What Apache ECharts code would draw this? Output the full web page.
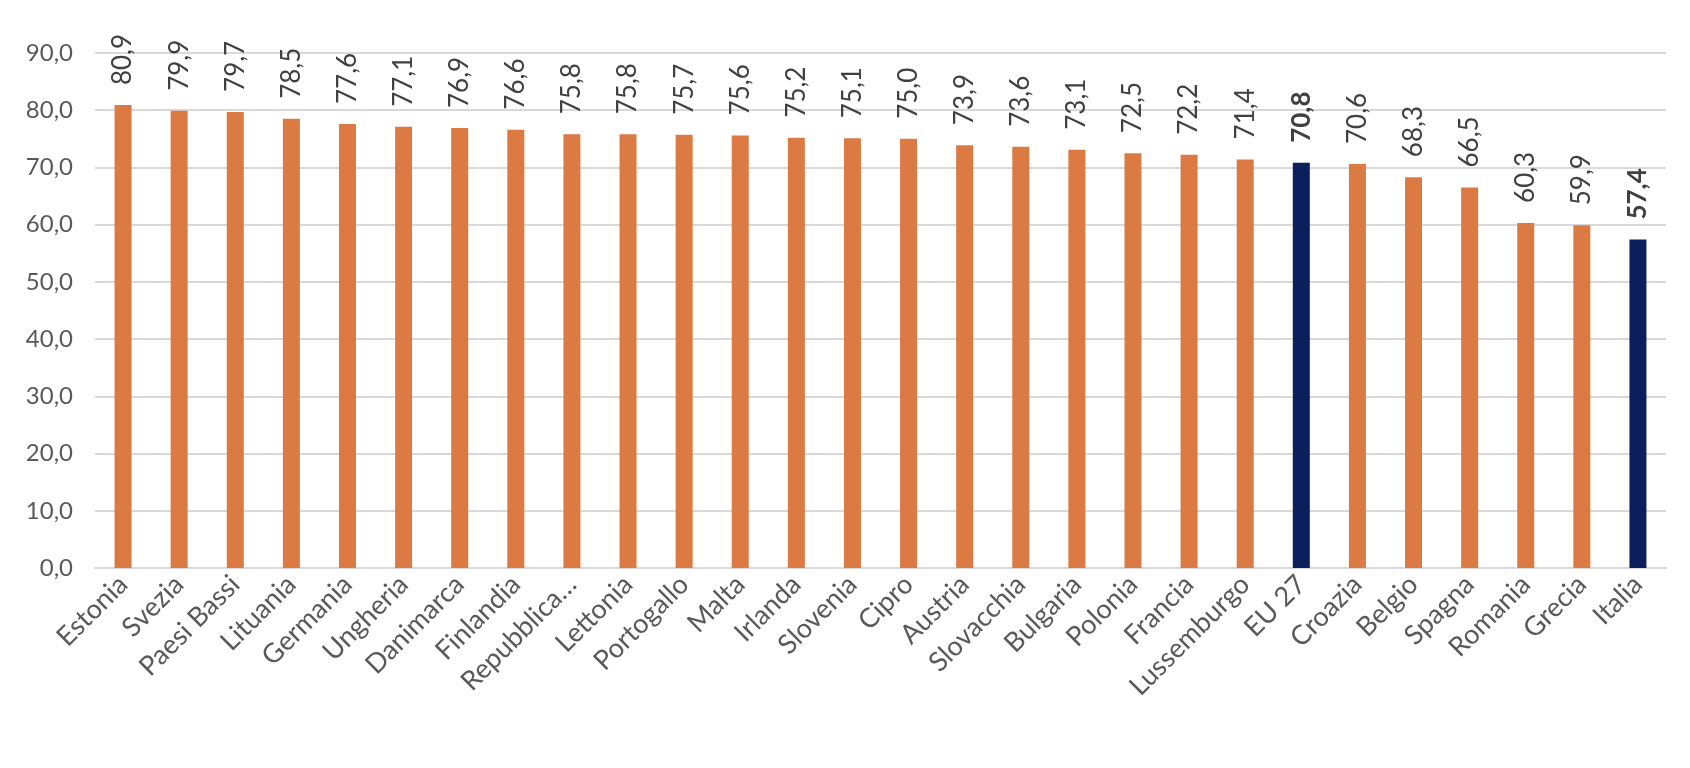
<!DOCTYPE html><html><head><meta charset="utf-8"><script src="https://cdn.jsdelivr.net/npm/echarts@6/dist/echarts.min.js"></script><style>body{margin:0}#c{width:1690px;height:768px}</style></head><body><div id="c"></div><script>
const categories=["Estonia","Svezia","Paesi Bassi","Lituania","Germania","Ungheria","Danimarca","Finlandia","Repubblica…","Lettonia","Portogallo","Malta","Irlanda","Slovenia","Cipro","Austria","Slovacchia","Bulgaria","Polonia","Francia","Lussemburgo","EU 27","Croazia","Belgio","Spagna","Romania","Grecia","Italia"];
const values=[80.9,79.9,79.7,78.5,77.6,77.1,76.9,76.6,75.8,75.8,75.7,75.6,75.2,75.1,75.0,73.9,73.6,73.1,72.5,72.2,71.4,70.8,70.6,68.3,66.5,60.3,59.9,57.4];
const highlight=["EU 27","Italia"];
const fmt=v=>v.toFixed(1).replace('.',',');
const data=values.map((v,i)=>{const h=highlight.includes(categories[i]);return {value:v,itemStyle:{color:h?'#0b1f5c':'#dc7a43'},label:{fontWeight:h?'bold':'normal'}};});
const ch=echarts.init(document.getElementById('c'));
ch.setOption({animation:false,textStyle:{fontFamily:'Lato'},
grid:{left:95,right:24,top:53,bottom:200},
xAxis:{type:'category',data:categories,axisTick:{show:false},axisLine:{lineStyle:{color:'#d9d9d9',width:2}},axisLabel:{rotate:45,interval:0,fontSize:27,color:'#595959',fontFamily:'Lato',margin:12}},
yAxis:{type:'value',min:0,max:90,interval:10,axisLabel:{formatter:v=>fmt(v),fontSize:24,color:'#595959',fontFamily:'Lato',margin:22},splitLine:{lineStyle:{color:'#d9d9d9',width:2}}},
series:[{type:'bar',data:data,barWidth:17,label:{show:true,position:'top',rotate:90,align:'left',verticalAlign:'middle',distance:20,fontSize:26,color:'#404040',fontFamily:'Lato',formatter:p=>fmt(p.value)}}]});
</script></body></html>
